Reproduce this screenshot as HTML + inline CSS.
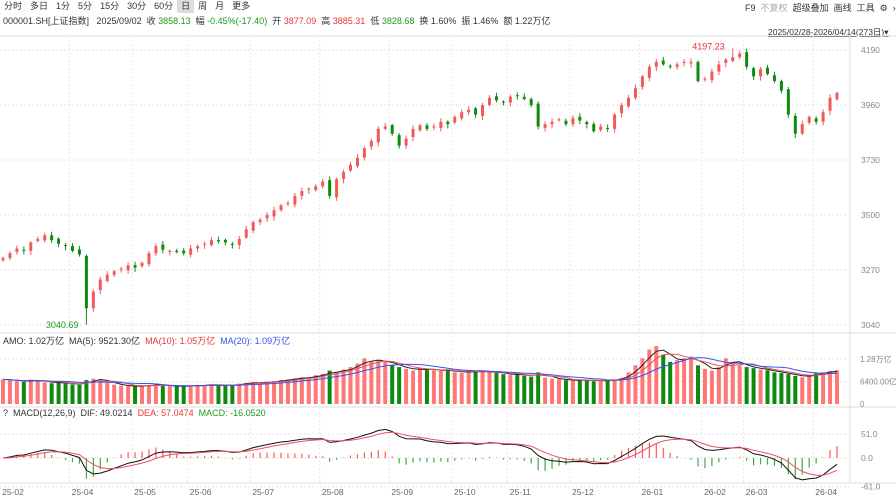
<!DOCTYPE html>
<html><head><meta charset="utf-8">
<style>
body{margin:0;width:896px;height:500px;overflow:hidden;background:#fff;font-family:"Liberation Sans","Noto Sans CJK SC",sans-serif;font-size:9px;color:#333}
.tb{position:absolute;top:0;left:0;height:13px;display:flex}
.tb span{padding:0 4px;line-height:13px;font-size:9px}
.tb span.sel{background:#ddd}
.abs{position:absolute;white-space:nowrap}
.r{color:#e33}.g{color:#1a9a1a}.b{color:#3355ee}
</style></head><body>
<div class="tb">
<span>分时</span><span>多日</span><span>1分</span><span>5分</span><span>15分</span><span>30分</span><span>60分</span><span class="sel">日</span><span>周</span><span>月</span><span>更多</span>
</div>
<div class="abs" style="top:14px;left:3px">000001.SH[上证指数] &nbsp; 2025/09/02 &nbsp;收 <span class="g">3858.13</span> &nbsp;幅 <span class="g">-0.45%(-17.40)</span> &nbsp;开 <span class="r">3877.09</span> &nbsp;高 <span class="r">3885.31</span> &nbsp;低 <span class="g">3828.68</span> &nbsp;换 1.60% &nbsp;振 1.46% &nbsp;额 1.22万亿</div>
<div class="abs" style="top:1px;left:745px"><span>F9</span> &nbsp;<span style="color:#aaa">不复权</span> &nbsp;<span>超级叠加</span> &nbsp;<span>画线</span> &nbsp;<span>工具</span> &nbsp;<span>⚙</span> &nbsp;<span>›</span></div>
<div class="abs" style="top:26px;left:768px;font-size:8.5px;text-decoration:underline">2025/02/28-2026/04/14(273日)▾</div>
<svg id="c" width="896" height="500" style="position:absolute;left:0;top:0"></svg>
<script>
const closes=[3320,3340,3360,3350,3385,3400,3415,3395,3380,3370,3350,3335,3110,3180,3230,3250,3265,3275,3290,3280,3300,3340,3370,3355,3350,3345,3340,3360,3370,3380,3395,3390,3385,3375,3400,3440,3470,3480,3500,3520,3540,3550,3580,3600,3610,3620,3640,3580,3650,3680,3710,3740,3780,3810,3860,3870,3840,3790,3820,3860,3875,3860,3870,3890,3880,3910,3930,3940,3920,3960,3990,3980,3970,3995,4000,3985,3960,3870,3880,3890,3900,3880,3905,3895,3880,3850,3870,3860,3920,3960,3990,4030,4080,4120,4140,4130,4120,4130,4140,4140,4060,4070,4100,4130,4150,4160,4175,4120,4080,4110,4090,4060,4020,3920,3840,3880,3910,3890,3930,3990,4010];
const volumes=[7000,6800,6500,6300,6900,6600,6200,5900,6200,5800,5600,5400,6800,7200,6900,6000,5500,5200,5100,5000,5300,5400,5500,5200,5100,5000,5100,5200,5400,5300,5600,5400,5200,5500,5800,6000,6200,5900,6300,6500,6800,7000,7300,7600,7500,8200,8600,9500,9000,9800,10500,11500,13000,12000,12500,12000,11000,10500,10000,9500,10200,9800,9600,9400,9800,9000,8800,9500,9200,9000,9300,8800,8500,8200,8600,8000,7800,9000,7500,7200,7000,6800,6600,6900,6700,6500,6800,6600,7000,7500,9000,11000,13000,15500,16500,14000,12000,12500,13000,13500,11000,10000,9500,10500,13000,12000,11000,10500,10200,9800,9600,9000,8800,8500,8000,7600,8200,8800,9000,9400,9600];
const priceTicks=[4190,3960,3730,3500,3270,3040];
const volTicks=["1.28万亿","6400.00亿","0"];
const volTickVals=[12800,6400,0];
const macdTicks=[51,0,-61];
const monthLabels=["25-02","25-04","25-05","25-06","25-07","25-08","25-09","25-10","25-11","25-12","26-01","26-02","26-03","26-04"];
const monthIdx=[0,10,19,27,36,46,56,65,73,82,92,101,107,117];
const lowIdx=12, lowVal=3040.69, highIdx=105, highVal=4197.23;

const NS="http://www.w3.org/2000/svg", svg=document.getElementById('c');
function el(t,a,txt){const e=document.createElementNS(NS,t);for(const k in a)e.setAttribute(k,a[k]);if(txt!=null)e.textContent=txt;svg.appendChild(e);return e;}
const N=closes.length;
const xS=i=>3+i*6.95;
const yP=p=>50+(4190-p)*55/230;
const yV=v=>404-v*45/12800;
const yM=m=>458-m*24/51;
[[0,36,896,36],[0,333,896,333],[0,407,896,407],[0,483,896,483],[850,36,850,483]].forEach(l=>{const e=el('line',{x1:l[0],y1:l[1],x2:l[2],y2:l[3],stroke:'#ddd'});});
monthIdx.forEach((m,k)=>{const x=xS(m)-3;if(k>0){const g=el('line',{x1:x,y1:36,x2:x,y2:483,stroke:'#e6e6e6','stroke-dasharray':'2,2'});}
const t=el('text',{x:x+13,y:495,'text-anchor':'middle','font-size':8.5,fill:'#666'},monthLabels[k]);});
priceTicks.forEach(p=>{const y=yP(p);const g=el('line',{x1:0,y1:y,x2:850,y2:y,stroke:'#e6e6e6','stroke-dasharray':'2,2'});
const t=el('text',{x:861,y:y+3,'font-size':8.5,fill:'#888'},p);});
volTickVals.forEach((v,k)=>{const y=yV(v);if(v>0){const g=el('line',{x1:0,y1:y,x2:850,y2:y,stroke:'#e6e6e6','stroke-dasharray':'2,2'});}
const t=el('text',{x:860,y:y+3,'font-size':8,fill:'#888'},volTicks[k]);});
macdTicks.forEach(m=>{const y=yM(m);const g=el('line',{x1:0,y1:y,x2:850,y2:y,stroke:'#e6e6e6','stroke-dasharray':'2,2'});
const t=el('text',{x:861,y:y+3,'font-size':8.5,fill:'#888'},m.toFixed(1));});
const RED='#f25a5a',GRN='#0f8a0f';
for(let i=0;i<N;i++){const c=closes[i],o=i?closes[i-1]+(i%3-1)*6:c-10;const up=c>=o;const col=up?RED:GRN;
let hi=Math.max(o,c)+6+(i%4)*3, lo=Math.min(o,c)-6-(i%5)*3;if(i===lowIdx)lo=lowVal;if(i===highIdx)hi=highVal;
const x=xS(i);
const w=el('line',{x1:x,y1:yP(hi),x2:x,y2:yP(lo),stroke:col,'stroke-width':1});
const b=el('rect',{x:x-1.5,y:yP(Math.max(o,c)),width:3,height:Math.max(1,Math.abs(yP(o)-yP(c))),fill:col});
const vb=el('rect',{x:x-2,y:yV(volumes[i]),width:4,height:404-yV(volumes[i]),fill:up?'#f77':GRN});}
let t=el('text',{x:xS(lowIdx)-8,y:yP(lowVal)+3,'text-anchor':'end','font-size':9,fill:'#1a9a1a'},lowVal.toFixed(2));
t=el('text',{x:xS(highIdx)-8,y:yP(highVal)+1,'text-anchor':'end','font-size':9,fill:'#e33'},highVal.toFixed(2));
function ma(a,n){return a.map((v,i)=>{const s=a.slice(Math.max(0,i-n+1),i+1);return s.reduce((x,y)=>x+y,0)/s.length;});}
function line(vals,fy,col,name){const d=vals.map((v,i)=>(i?'L':'M')+xS(i).toFixed(1)+','+fy(v).toFixed(1)).join('');const p=el('path',{d:d,fill:'none',stroke:col,'stroke-width':1});}
line(ma(volumes,3),yV,'#222','volume-ma5');line(ma(volumes,5),yV,'#f05060','volume-ma10');line(ma(volumes,10),yV,'#3355ee','volume-ma20');
function ema(a,n){const k=2/(n+1);let r=[];a.forEach((v,i)=>r.push(i?r[i-1]+k*(v-r[i-1]):v));return r;}
const e1=ema(closes,6),e2=ema(closes,13);const dif=e1.map((v,i)=>(v-e2[i])*0.75);const dea=ema(dif,5);
dif.forEach((d,i)=>{const h=(d-dea[i])*2;const b=el('line',{x1:xS(i),y1:yM(0),x2:xS(i),y2:yM(h),stroke:h>=0?'#f55':'#4a4','stroke-width':1.2});});
line(dif,yM,'#111','macd-dif-line');line(dea,yM,'#f05060','macd-dea-line');
</script>
<div class="abs" style="top:334px;left:3px">AMO: 1.02万亿 &nbsp;MA(5): 9521.30亿 &nbsp;<span class="r">MA(10): 1.05万亿</span> &nbsp;<span class="b">MA(20): 1.09万亿</span></div>
<div class="abs" style="top:408px;left:3px;background:#fff">? &nbsp;MACD(12,26,9) &nbsp;DIF: 49.0214 &nbsp;<span class="r">DEA: 57.0474</span> &nbsp;<span class="g">MACD: -16.0520</span></div>
</body></html>
